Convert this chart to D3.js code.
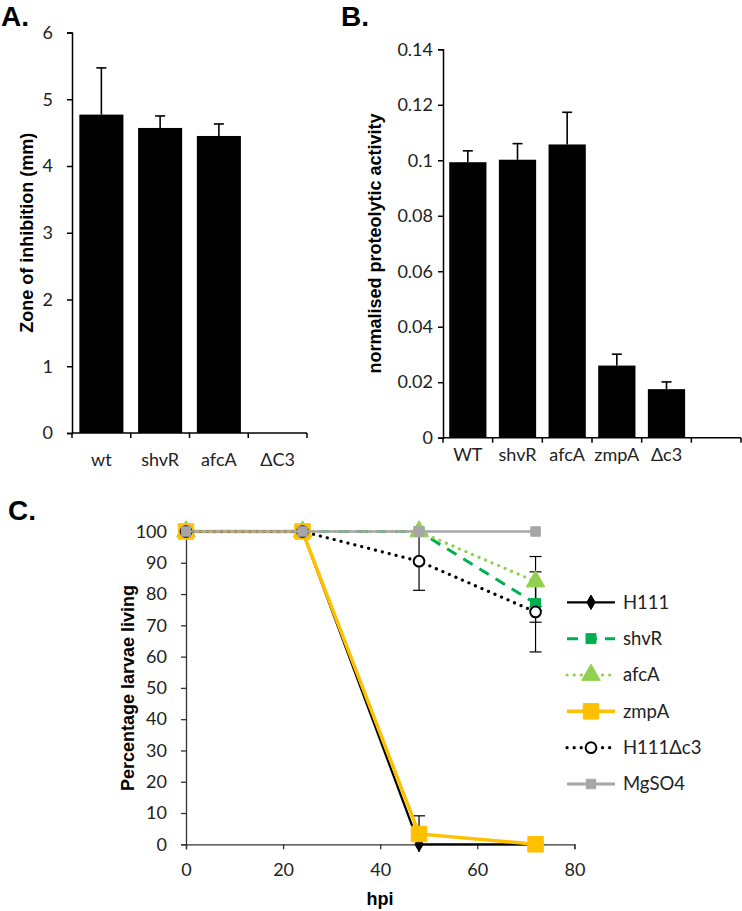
<!DOCTYPE html>
<html><head><meta charset="utf-8">
<script src="https://cdn.jsdelivr.net/npm/d3@7"></script>
<style>
body{margin:0;background:#fff;}
svg{display:block;}
text{font-family:Lato, "Open Sans", sans-serif;fill:#222;}
.ttl{font-family:"Liberation Sans", Arial, sans-serif;font-weight:bold;fill:#000;}
.atl{font-family:"Liberation Sans", Arial, sans-serif;font-weight:bold;fill:#000;}
</style></head>
<body>
<svg id="c" width="742" height="911"></svg>
<script>
// ---- Panel A data ----
const catsA = ["wt", "shvR", "afcA", "ΔC3"];
const valsA = [4.77, 4.57, 4.45, 0];
const errA  = [0.70, 0.18, 0.18, 0];
const ticksA = [0, 1, 2, 3, 4, 5, 6];

// ---- Panel B data ----
const catsB = ["WT", "shvR", "afcA", "zmpA", "Δc3", ""];
const valsB = [0.0993, 0.1002, 0.1057, 0.0260, 0.0175, null];
const errB  = [0.0041, 0.0058, 0.0116, 0.0041, 0.0026, null];
const ticksB = [0, 0.02, 0.04, 0.06, 0.08, 0.1, 0.12, 0.14];

// ---- Panel C data ----
const hpi = [0, 24, 48, 72];
const seriesNames = ["H111", "shvR", "afcA", "zmpA", "H111Δc3", "MgSO4"];
const H111   = [100, 100, 0, 0];
const shvR   = [100, 100, 100, 77];
const afcA   = [100, 100, 100, 84];
const zmpA   = [100, 100, 3.3, 0];
const dc3    = [100, 100, 90.5, 74.3];
const MgSO4  = [100, 100, 100, 100];
const errH111 = [0, 0, 0, 0];
const errShvR = [0, 0, 0, 6];
const errAfcA = [0, 0, 0, 8];
const errZmpA = [0, 0, 5.8, 0];
const errDc3  = [0, 0, 9.3, 12.8];
const errMg   = [0, 0, 0, 0];
const ticksCx = [0, 20, 40, 60, 80];
const ticksCy = [0, 10, 20, 30, 40, 50, 60, 70, 80, 90, 100];

const svg = d3.select("#c");

// panel letters
svg.append("text").attr("class","ttl").attr("x",1).attr("y",26).attr("font-size",28).text("A.");
svg.append("text").attr("class","ttl").attr("x",341).attr("y",26).attr("font-size",28).text("B.");
svg.append("text").attr("class","ttl").attr("x",8).attr("y",520).attr("font-size",28).text("C.");

function barPanel(cats, vals, errs, ticks, x0, x1, yTop, yBot, yMax, padLbl, title, titleX, lblY, fmt) {
  const g = svg.append("g");
  const x = d3.scaleBand().domain(d3.range(cats.length)).range([x0, x1]).paddingInner(0.25).paddingOuter(0.125);
  const y = d3.scaleLinear().domain([0, yMax]).range([yBot, yTop]);
  cats.forEach((c, i) => {
    if (vals[i] == null || vals[i] <= 0) return;
    g.append("rect").attr("x", x(i)).attr("width", x.bandwidth())
      .attr("y", y(vals[i])).attr("height", y(0) - y(vals[i])).attr("fill", "#000");
    const cx = x(i) + x.bandwidth() / 2;
    g.append("line").attr("x1", cx).attr("x2", cx).attr("y1", y(vals[i])).attr("y2", y(vals[i] + errs[i]))
      .attr("stroke", "#000").attr("stroke-width", 1.6);
    g.append("line").attr("x1", cx - 5).attr("x2", cx + 5).attr("y1", y(vals[i] + errs[i])).attr("y2", y(vals[i] + errs[i]))
      .attr("stroke", "#000").attr("stroke-width", 1.6);
  });
  const ya = g.append("g").attr("transform", `translate(${x0},0)`)
    .call(d3.axisLeft(y).tickValues(ticks).tickSize(5).tickPadding(padLbl).tickFormat(fmt));
  ya.select(".domain").attr("stroke", "#000").attr("stroke-width", 1.5);
  ya.selectAll(".tick line").attr("stroke", "#000").attr("stroke-width", 1.5);
  ya.selectAll(".tick text").attr("font-size", 18).attr("font-family", "Lato").attr("fill", "#222");
  g.append("line").attr("x1", x0).attr("x2", x1).attr("y1", y(0)).attr("y2", y(0)).attr("stroke", "#000").attr("stroke-width", 1.5);
  const bounds = d3.range(cats.length + 1).map(i => x0 + i * x.step());
  bounds.forEach(b => g.append("line").attr("x1", b).attr("x2", b).attr("y1", y(0)).attr("y2", y(0) + 5)
    .attr("stroke", "#000").attr("stroke-width", 1.5));
  cats.forEach((c, i) => g.append("text").attr("x", x(i) + x.bandwidth() / 2).attr("y", lblY)
    .attr("text-anchor", "middle").attr("font-size", 18).text(c));
  g.append("text").attr("class", "atl").attr("transform", `translate(${titleX},${(yTop + yBot) / 2}) rotate(-90)`)
    .attr("text-anchor", "middle").attr("font-size", 18).text(title);
}

barPanel(catsA, valsA, errA, ticksA, 72, 307, 32.5, 433, 6, 14, "Zone of inhibition (mm)", 33, 466, d3.format("d"));
barPanel(catsB, valsB, errB, ticksB, 443, 741, 49.3, 437.7, 0.14, 5, "normalised proteolytic activity", 381, 461, d => d === 0 ? "0" : String(+d.toFixed(2)));

// ---- Panel C ----
const gC = svg.append("g");
const xC = d3.scaleLinear().domain([0, 80]).range([186, 574.4]);
const yC = d3.scaleLinear().domain([0, 100]).range([844.3, 531.5]);

const ya = gC.append("g").attr("transform", "translate(186,0)")
  .call(d3.axisLeft(yC).tickValues(ticksCy).tickSize(5).tickPadding(14));
const xa = gC.append("g").attr("transform", "translate(0,844.3)")
  .call(d3.axisBottom(xC).tickValues(ticksCx).tickSize(5).tickPadding(14));
[ya, xa].forEach(a => {
  a.select(".domain").attr("stroke", "#333").attr("stroke-width", 1.3);
  a.selectAll(".tick line").attr("stroke", "#333").attr("stroke-width", 1.3);
  a.selectAll(".tick text").attr("font-size", 18).attr("font-family", "Lato").attr("fill", "#222");
});
gC.append("text").attr("class", "atl").attr("x", 380).attr("y", 905).attr("text-anchor", "middle").attr("font-size", 18).text("hpi");
gC.append("text").attr("class", "atl").attr("transform", `translate(134,688) rotate(-90)`)
  .attr("text-anchor", "middle").attr("font-size", 18).text("Percentage larvae living");

const series = [
  {name: seriesNames[0], vals: H111, errs: errH111, color: "#000", width: 2.2, dash: null, cap: "butt", marker: "diamond", msize: 60, mfill: "#000", mstroke: "#000"},
  {name: seriesNames[1], vals: shvR, errs: errShvR, color: "#00B050", width: 3, dash: "11,8", cap: "butt", marker: "square", msize: 100, mfill: "#00B050", mstroke: "#00B050"},
  {name: seriesNames[2], vals: afcA, errs: errAfcA, color: "#92D050", width: 3.2, dash: "0.1,7", cap: "round", marker: "triangle", msize: 150, mfill: "#92D050", mstroke: "#92D050"},
  {name: seriesNames[3], vals: zmpA, errs: errZmpA, color: "#FFC000", width: 3.5, dash: null, cap: "butt", marker: "square", msize: 240, mfill: "#FFC000", mstroke: "#FFC000"},
  {name: seriesNames[4], vals: dc3, errs: errDc3, color: "#000", width: 3.2, dash: "0.1,7", cap: "round", marker: "circle", msize: 90, mfill: "#fff", mstroke: "#000"},
  {name: seriesNames[5], vals: MgSO4, errs: errMg, color: "#A6A6A6", width: 2.4, dash: null, cap: "butt", marker: "square", msize: 90, mfill: "#A6A6A6", mstroke: "#A6A6A6"}
];
const symType = {diamond: d3.symbolDiamond, square: d3.symbolSquare, triangle: d3.symbolTriangle, circle: d3.symbolCircle};
const line = d3.line().x((d, i) => xC(hpi[i])).y(d => yC(d));

series.forEach(s => {
  s.vals.forEach((v, i) => {
    const e = s.errs[i];
    if (!e) return;
    const cx = xC(hpi[i]);
    gC.append("line").attr("x1", cx).attr("x2", cx).attr("y1", yC(v - e)).attr("y2", yC(Math.min(v + e, 100)))
      .attr("stroke", "#000").attr("stroke-width", 1.2);
    [v - e, v + e].forEach(t => {
      if (t < 0 || t > 100) return;
      gC.append("line").attr("x1", cx - 6).attr("x2", cx + 6).attr("y1", yC(t)).attr("y2", yC(t))
        .attr("stroke", "#000").attr("stroke-width", 1.2);
    });
  });
});

function drawSeries(g, s, pts, legend) {
  const p = g.append("path").attr("d", legend ? d3.line()(pts) : line(s.vals)).attr("fill", "none")
    .attr("stroke", s.color).attr("stroke-width", legend && s.name === "MgSO4" ? 3 : s.width).attr("stroke-linecap", s.cap);
  if (s.dash) p.attr("stroke-dasharray", s.dash);
}
function drawMarker(g, s, x, y) {
  g.append("path").attr("d", d3.symbol().type(symType[s.marker]).size(s.msize)())
    .attr("transform", `translate(${x},${y})`).attr("fill", s.mfill).attr("stroke", s.mstroke).attr("stroke-width", s.marker === "circle" ? 2 : 1);
}
series.forEach(s => {
  drawSeries(gC, s, null, false);
  s.vals.forEach((v, i) => drawMarker(gC, s, xC(hpi[i]), yC(v)));
});

const legY = d3.scalePoint().domain(seriesNames).range([602.3, 784]);
series.forEach(s => {
  const ly = legY(s.name);
  drawSeries(gC, s, [[567, ly], [615, ly]], true);
  drawMarker(gC, s, 591, ly);
  gC.append("text").attr("x", 623).attr("y", ly).attr("dy", "0.35em").attr("font-size", 18.5).text(s.name);
});
</script>
</body></html>
